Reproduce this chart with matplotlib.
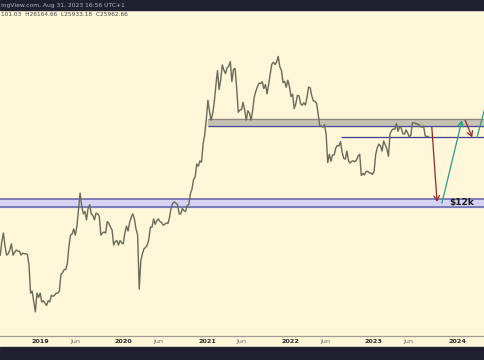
import pandas as pd
import matplotlib
matplotlib.use("Agg")
import matplotlib.pyplot as plt
import matplotlib.dates as mdates
from matplotlib.patches import Rectangle

# cierres semanales aproximados (BTC/USD)
precio_2018 = [6300, 7400, 8200, 7000, 6300, 6400, 6700, 7200, 6300, 6500, 6700, 6600,
               6600, 6300, 6450, 6400, 6400, 6350, 5600, 4000, 4100, 3600, 3200, 4000,
               3800, 4000]
precio_2019 = [3600, 3650, 3550, 3450, 3650, 3600, 3900, 3850, 3900, 4000, 4000, 4100,
               5000, 5100, 5300, 5300, 5700, 7000, 8000, 8100, 8600, 8000, 8900, 10800,
               13200, 11300, 10300, 10600, 9600, 11000, 11500, 10300, 10100, 9600, 10400,
               10300, 10000, 8000, 8200, 8300, 8200, 9400, 9200, 8800, 8500, 7100, 7400,
               7500, 7100, 7500, 7300, 7200]
precio_2020 = [8200, 8900, 8400, 9300, 9900, 10300, 9700, 8600, 8000, 4200, 5900, 6400,
               6800, 6900, 7100, 7600, 8800, 8800, 9700, 9100, 9500, 9700, 9400, 9300,
               9000, 9100, 9250, 9200, 9900, 11100, 11700, 11900, 11700, 11500, 10300,
               10300, 11000, 10700, 10600, 11400, 11500, 13100, 13800, 15500, 16000,
               18700, 18200, 19400, 19100, 23800, 26500, 32000]
precio_2021 = [40000, 35000, 31500, 34300, 39300, 48000, 57000, 45500, 51000, 61000,
               57300, 55000, 59000, 60000, 63500, 50000, 57800, 58500, 46000, 34700,
               35600, 35800, 39000, 35600, 31500, 35300, 34300, 31500, 35400, 41600,
               44600, 47000, 49000, 48800, 49900, 46000, 48300, 43200, 48200, 54900,
               61500, 63000, 61300, 63300, 67500, 59700, 57200, 49400, 50100, 46700,
               50800, 47300]
precio_2022 = [41800, 43000, 36200, 38400, 42400, 42200, 38400, 37700, 38800, 37800,
               41300, 46800, 46400, 42200, 39700, 39500, 38500, 34000, 29500, 29400,
               29000, 29900, 26600, 19000, 21000, 19300, 20800, 20800, 22600, 23300,
               23200, 24400, 21500, 20000, 19800, 21800, 19400, 18900, 19300, 19400,
               19200, 19600, 20600, 21000, 16300, 16700, 16400, 17100, 17100, 16800,
               16800, 16500]
precio_2023 = [17100, 20900, 22700, 23700, 23200, 21800, 24600, 23500, 22400, 20500,
               26900, 27900, 28400, 28300, 30300, 27600, 29200, 28700, 26800, 26700,
               28100, 27100, 25900, 26300, 30500, 30600, 30300, 30200, 29900, 29200,
               29000, 29400, 26100, 26000, 25900]

precio = precio_2018 + precio_2019 + precio_2020 + precio_2021 + precio_2022 + precio_2023
semanas = pd.date_range("2018-07-09", periods=len(precio), freq="7D")

# zonas y niveles
zona_12k = (11200, 12300)
zona_gris = (29300, 31900)
zona_gris_inicio = "2021-01-03"
nivel_azul = 25700
nivel_azul_inicio = "2022-08-12"

# flechas de proyeccion (fecha, precio)
flecha_roja_1 = [("2023-09-12", 29000), ("2023-10-05", 11900)]
flecha_verde_1 = [("2023-10-26", 11700), ("2024-01-22", 31500)]
flecha_roja_2 = [("2024-02-05", 31500), ("2024-03-07", 25700)]
linea_verde_2 = [("2024-03-28", 25700), ("2024-06-02", 50000)]

etiquetas_x = ["2019", "Jun", "2020", "Jun", "2021", "Jun", "2022", "Jun", "2023", "Jun", "2024"]
fechas_x = ["2019-01-01", "2019-06-01", "2020-01-01", "2020-06-01", "2021-01-01", "2021-06-01",
            "2022-01-01", "2022-06-01", "2023-01-01", "2023-06-01", "2024-01-01"]

fondo = "#fdf6d8"
oscuro = "#1e2030"

fig = plt.figure(figsize=(4.85, 3.6), dpi=100, facecolor=fondo)
ax = fig.add_axes([0, 24 / 360, 1, 326 / 360])
ax.set_facecolor(fondo)

# linea de precio
ax.plot(semanas, precio, color="#6a6a58", lw=1.0, zorder=3)

# zona 12k
ax.axhspan(zona_12k[0], zona_12k[1], color="#d6d3f2", zorder=1)
ax.axhline(zona_12k[0], color="#6262aa", lw=1.1, zorder=2)
ax.axhline(zona_12k[1], color="#6262aa", lw=1.1, zorder=2)

# zona gris
x0 = pd.Timestamp(zona_gris_inicio)
x1 = pd.Timestamp("2024-06-01")
ax.fill_between([x0, x1], zona_gris[0], zona_gris[1], color="#c6c2b2", zorder=1)
ax.hlines(zona_gris[1], x0, x1, color="#8c8a80", lw=0.9, zorder=2)
ax.hlines(zona_gris[0], x0, x1, color="#4a4a98", lw=0.9, zorder=2)

ax.hlines(nivel_azul, pd.Timestamp(nivel_azul_inicio), x1, color="#3f3f8c", lw=0.9, zorder=2)


def punto(p):
    return (mdates.date2num(pd.Timestamp(p[0])), p[1])


def flecha(tramo, color):
    ax.annotate("", xy=punto(tramo[1]), xytext=punto(tramo[0]),
                arrowprops=dict(arrowstyle="->,head_length=0.35,head_width=0.2",
                                color=color, lw=0.9, shrinkA=0, shrinkB=0), zorder=4)


flecha(flecha_roja_1, "#8e2a2a")
flecha(flecha_verde_1, "#2f9c83")
flecha(flecha_roja_2, "#8e2a2a")
ax.plot([pd.Timestamp(linea_verde_2[0][0]), pd.Timestamp(linea_verde_2[1][0])],
        [linea_verde_2[0][1], linea_verde_2[1][1]], color="#2f9c83", lw=0.9, zorder=4)

ax.text(pd.Timestamp("2024-01-22"), 11750, r"\$12k", fontsize=6.5, fontweight="bold",
        color="#1a1a1a", ha="center", va="center", zorder=5)

ax.set_yscale("log")
ax.set_ylim(2398, 117500)
ax.set_xlim(pd.Timestamp("2018-07-08"), pd.Timestamp("2024-05-02"))
ax.set_yticks([])
ax.minorticks_off()

ax.set_xticks([pd.Timestamp(f) for f in fechas_x])
ax.set_xticklabels(etiquetas_x)
for lbl in ax.get_xticklabels():
    if lbl.get_text() == "Jun":
        lbl.set_color("#6b6b6b")
    else:
        lbl.set_color("#2a2a2a")
        lbl.set_fontweight("bold")
ax.tick_params(axis="x", length=0, pad=2.5, labelsize=4.6)
ax.tick_params(axis="y", left=False, labelleft=False)

for lado in ["top", "left", "right"]:
    ax.spines[lado].set_visible(False)
ax.spines["bottom"].set_color("#a09e90")
ax.spines["bottom"].set_linewidth(0.9)

# barras oscuras arriba y abajo
fig.patches.append(Rectangle((0, 350 / 360), 1, 10 / 360, transform=fig.transFigure,
                             color=oscuro, zorder=10))
fig.patches.append(Rectangle((0, 0), 1, 13 / 360, transform=fig.transFigure,
                             color=oscuro, zorder=10))
fig.text(1 / 485, 355 / 360, "ingView.com, Aug 31, 2023 16:56 UTC+1", fontsize=4.3,
         color="#b4b7c2", va="center", ha="left", zorder=11)
fig.text(1 / 485, 345 / 360, "101.03  H26164.66  L25933.18  C25962.66", fontsize=4.2,
         color="#4a4a4a", va="center", ha="left", zorder=11)

plt.savefig("out.png", dpi=100, facecolor=fondo)
plt.close()
